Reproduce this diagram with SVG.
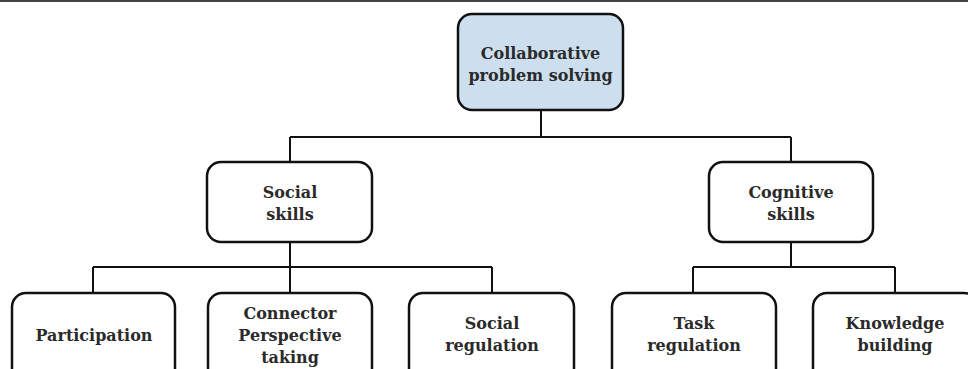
<svg xmlns="http://www.w3.org/2000/svg" width="968" height="369" viewBox="0 0 968 369">
<style>
.box{fill:#fff;stroke:#111;stroke-width:2.5}
.root{fill:#cddfee;stroke:#111;stroke-width:2.5}
.lbl{font-family:"DejaVu Serif","Liberation Serif",serif;font-size:16px;font-weight:bold;fill:#2a2a2a;text-anchor:middle}
.con{fill:none;stroke:#111;stroke-width:2}
</style>
<rect x="0" y="0" width="968" height="2" fill="#444"/>
<g id="connectors">
<path class="con" d="M541 110V137M290 137H791M290 137V162M791 137V162"/>
<path class="con" d="M290 242V267M93 267H492M93 267V293M290 267V293M492 267V293"/>
<path class="con" d="M791 242V267M693 267H895M693 267V293M895 267V293"/>
</g>
<g id="n-root"><rect class="root" x="458" y="14" width="165" height="96" rx="14"/><text class="lbl" x="540.5" y="59">Collaborative</text><text class="lbl" x="540.5" y="81">problem solving</text></g>
<g id="n-social"><rect class="box" x="207" y="162" width="165" height="80" rx="14"/><text class="lbl" x="290" y="198">Social</text><text class="lbl" x="290" y="220">skills</text></g>
<g id="n-cognitive"><rect class="box" x="709" y="162" width="164" height="80" rx="14"/><text class="lbl" x="791" y="198">Cognitive</text><text class="lbl" x="791" y="220">skills</text></g>
<g id="n-participation"><rect class="box" x="12" y="293" width="163" height="90" rx="14"/><text class="lbl" x="94" y="341">Participation</text></g>
<g id="n-connector"><rect class="box" x="208" y="293" width="164" height="90" rx="14"/><text class="lbl" x="290" y="319">Connector</text><text class="lbl" x="290" y="341">Perspective</text><text class="lbl" x="290" y="363">taking</text></g>
<g id="n-socialreg"><rect class="box" x="409" y="293" width="165" height="90" rx="14"/><text class="lbl" x="492" y="329">Social</text><text class="lbl" x="492" y="351">regulation</text></g>
<g id="n-task"><rect class="box" x="612" y="293" width="164" height="90" rx="14"/><text class="lbl" x="694" y="329">Task</text><text class="lbl" x="694" y="351">regulation</text></g>
<g id="n-knowledge"><rect class="box" x="813" y="293" width="165" height="90" rx="14"/><text class="lbl" x="895" y="329">Knowledge</text><text class="lbl" x="895" y="351">building</text></g>
</svg>
